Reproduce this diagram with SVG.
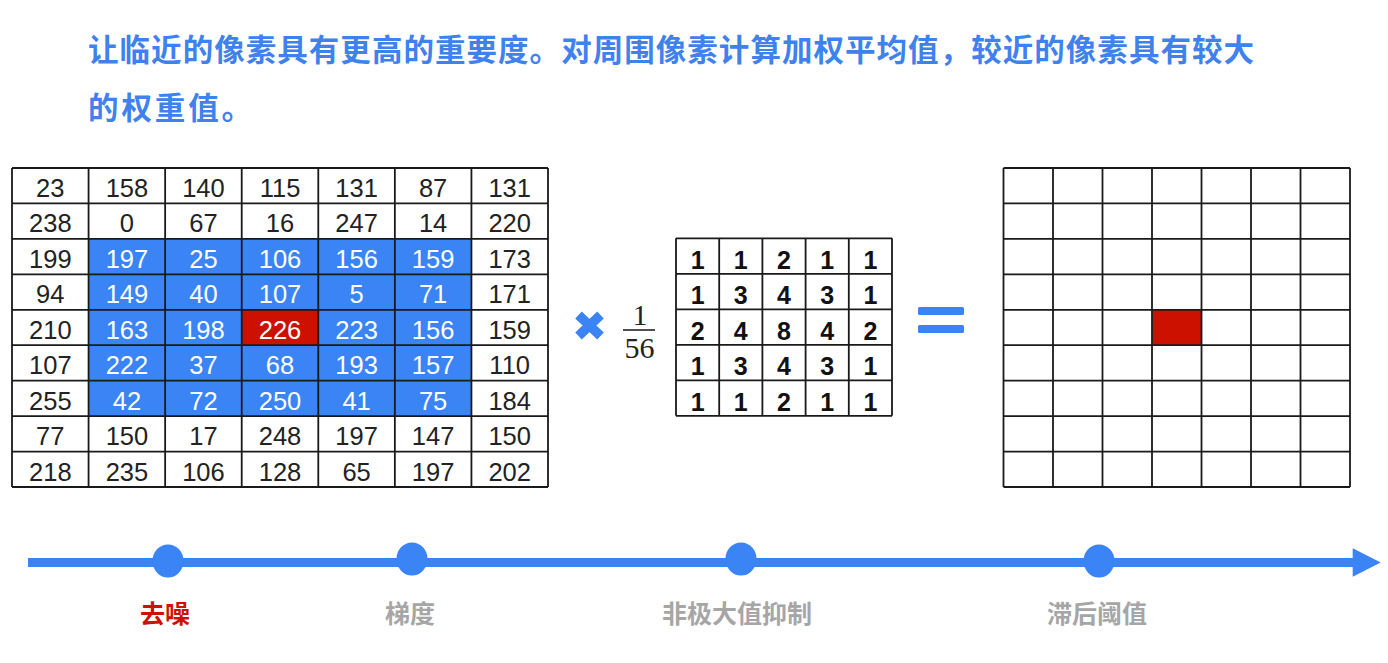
<svg xmlns="http://www.w3.org/2000/svg" width="1388" height="663" viewBox="0 0 1388 663">
<defs>
<style>
.title{font-family:"Noto Sans CJK SC","Noto Sans",sans-serif;font-weight:bold;font-size:30.5px;fill:#3F82EE}
.num{font-family:"Liberation Sans",Arial,sans-serif;font-size:25.5px;fill:#222;text-anchor:middle}
.w{fill:#fff}
.k{font-family:"Liberation Sans",Arial,sans-serif;font-size:25px;font-weight:bold;fill:#111;text-anchor:middle}
.frac{font-family:"Liberation Serif","DejaVu Serif",serif;font-size:30px;fill:#222;text-anchor:middle}
.grid{stroke:#1a1a1a;stroke-width:1.8;fill:none}
.lbl{font-family:"Noto Sans CJK SC","Noto Sans",sans-serif;font-weight:bold;font-size:25px;text-anchor:middle}
.blue{fill:#3A84F5}
.red{fill:#CC1100}
</style>
</defs>
<rect width="1388" height="663" fill="#fff"/>

<g id="title">
<text class="title" x="88" y="61" textLength="1166" lengthAdjust="spacing">让临近的像素具有更高的重要度。对周围像素计算加权平均值，较近的像素具有较大</text>
<text class="title" x="88" y="119" textLength="164" lengthAdjust="spacing">的权重值。</text>
</g>

<g id="input-grid">
<rect class="blue" x="88.57" y="238.9" width="382.86" height="177.2"/>
<rect class="red" x="241.71" y="309.8" width="76.57" height="35.44"/>
<path class="grid" d="M12,168H548M12,203.44H548M12,238.89H548M12,274.33H548M12,309.78H548M12,345.22H548M12,380.67H548M12,416.11H548M12,451.56H548M12,487H548M12,168V487M88.57,168V487M165.14,168V487M241.71,168V487M318.29,168V487M394.86,168V487M471.43,168V487M548,168V487"/>
<g class="num">
<text x="50.3" y="197">23</text><text x="126.9" y="197">158</text><text x="203.4" y="197">140</text><text x="280" y="197">115</text><text x="356.6" y="197">131</text><text x="433.1" y="197">87</text><text x="509.7" y="197">131</text>
<text x="50.3" y="232.4">238</text><text x="126.9" y="232.4">0</text><text x="203.4" y="232.4">67</text><text x="280" y="232.4">16</text><text x="356.6" y="232.4">247</text><text x="433.1" y="232.4">14</text><text x="509.7" y="232.4">220</text>
<text x="50.3" y="267.9">199</text><text class="w" x="126.9" y="267.9">197</text><text class="w" x="203.4" y="267.9">25</text><text class="w" x="280" y="267.9">106</text><text class="w" x="356.6" y="267.9">156</text><text class="w" x="433.1" y="267.9">159</text><text x="509.7" y="267.9">173</text>
<text x="50.3" y="303.3">94</text><text class="w" x="126.9" y="303.3">149</text><text class="w" x="203.4" y="303.3">40</text><text class="w" x="280" y="303.3">107</text><text class="w" x="356.6" y="303.3">5</text><text class="w" x="433.1" y="303.3">71</text><text x="509.7" y="303.3">171</text>
<text x="50.3" y="338.8">210</text><text class="w" x="126.9" y="338.8">163</text><text class="w" x="203.4" y="338.8">198</text><text class="w" x="280" y="338.8">226</text><text class="w" x="356.6" y="338.8">223</text><text class="w" x="433.1" y="338.8">156</text><text x="509.7" y="338.8">159</text>
<text x="50.3" y="374.2">107</text><text class="w" x="126.9" y="374.2">222</text><text class="w" x="203.4" y="374.2">37</text><text class="w" x="280" y="374.2">68</text><text class="w" x="356.6" y="374.2">193</text><text class="w" x="433.1" y="374.2">157</text><text x="509.7" y="374.2">110</text>
<text x="50.3" y="409.7">255</text><text class="w" x="126.9" y="409.7">42</text><text class="w" x="203.4" y="409.7">72</text><text class="w" x="280" y="409.7">250</text><text class="w" x="356.6" y="409.7">41</text><text class="w" x="433.1" y="409.7">75</text><text x="509.7" y="409.7">184</text>
<text x="50.3" y="445.1">77</text><text x="126.9" y="445.1">150</text><text x="203.4" y="445.1">17</text><text x="280" y="445.1">248</text><text x="356.6" y="445.1">197</text><text x="433.1" y="445.1">147</text><text x="509.7" y="445.1">150</text>
<text x="50.3" y="480.6">218</text><text x="126.9" y="480.6">235</text><text x="203.4" y="480.6">106</text><text x="280" y="480.6">128</text><text x="356.6" y="480.6">65</text><text x="433.1" y="480.6">197</text><text x="509.7" y="480.6">202</text>
</g>
</g>

<g id="times">
<path d="M578.5,315L600.5,336M600.5,315L578.5,336" stroke="#3A84F5" stroke-width="9.5" stroke-linecap="butt"/>
</g>

<g id="fraction">
<text class="frac" x="640" y="325">1</text>
<line x1="623" y1="330" x2="655" y2="330" stroke="#222" stroke-width="1.6"/>
<text class="frac" x="639.5" y="357.5">56</text>
</g>

<g id="kernel">
<path class="grid" d="M676,238.3H892M676,273.8H892M676,309.3H892M676,344.8H892M676,380.3H892M676,415.8H892M676,238.3V415.8M719.2,238.3V415.8M762.4,238.3V415.8M805.6,238.3V415.8M848.8,238.3V415.8M892,238.3V415.8"/>
<g class="k">
<text x="697.6" y="268.5">1</text><text x="740.8" y="268.5">1</text><text x="784" y="268.5">2</text><text x="827.2" y="268.5">1</text><text x="870.4" y="268.5">1</text>
<text x="697.6" y="304">1</text><text x="740.8" y="304">3</text><text x="784" y="304">4</text><text x="827.2" y="304">3</text><text x="870.4" y="304">1</text>
<text x="697.6" y="339.5">2</text><text x="740.8" y="339.5">4</text><text x="784" y="339.5">8</text><text x="827.2" y="339.5">4</text><text x="870.4" y="339.5">2</text>
<text x="697.6" y="375">1</text><text x="740.8" y="375">3</text><text x="784" y="375">4</text><text x="827.2" y="375">3</text><text x="870.4" y="375">1</text>
<text x="697.6" y="410.5">1</text><text x="740.8" y="410.5">1</text><text x="784" y="410.5">2</text><text x="827.2" y="410.5">1</text><text x="870.4" y="410.5">1</text>
</g>
</g>

<g id="equals">
<rect class="blue" x="918" y="307" width="46" height="8" rx="1.5"/>
<rect class="blue" x="918" y="325" width="46" height="8" rx="1.5"/>
</g>

<g id="output-grid">
<rect class="red" x="1152.2" y="309.8" width="49.5" height="35.44"/>
<path class="grid" d="M1003.5,168H1350M1003.5,203.44H1350M1003.5,238.89H1350M1003.5,274.33H1350M1003.5,309.78H1350M1003.5,345.22H1350M1003.5,380.67H1350M1003.5,416.11H1350M1003.5,451.56H1350M1003.5,487H1350M1003.5,168V487M1053,168V487M1102.5,168V487M1152,168V487M1201.5,168V487M1251,168V487M1300.5,168V487M1350,168V487"/>
</g>

<g id="connectors">
<line x1="28" y1="562.5" x2="1354" y2="562.5" stroke="#3A84F5" stroke-width="9"/>
<polygon points="1352.7,548.3 1380.7,562.5 1352.7,576.7" fill="#3A84F5"/>
</g>

<g id="step-denoise">
<ellipse class="blue" cx="168" cy="561" rx="15.5" ry="16.5"/>
<text class="lbl" x="165" y="623" fill="#CC1100">去噪</text>
</g>
<g id="step-gradient">
<ellipse class="blue" cx="412" cy="559" rx="15.5" ry="16.5"/>
<text class="lbl" x="410" y="623" fill="#A6A6A6">梯度</text>
</g>
<g id="step-nms">
<ellipse class="blue" cx="741" cy="559" rx="15.5" ry="16.5"/>
<text class="lbl" x="737" y="623" fill="#A6A6A6">非极大值抑制</text>
</g>
<g id="step-hysteresis">
<ellipse class="blue" cx="1099" cy="561" rx="15.5" ry="16.5"/>
<text class="lbl" x="1097" y="623" fill="#A6A6A6">滞后阈值</text>
</g>
</svg>
